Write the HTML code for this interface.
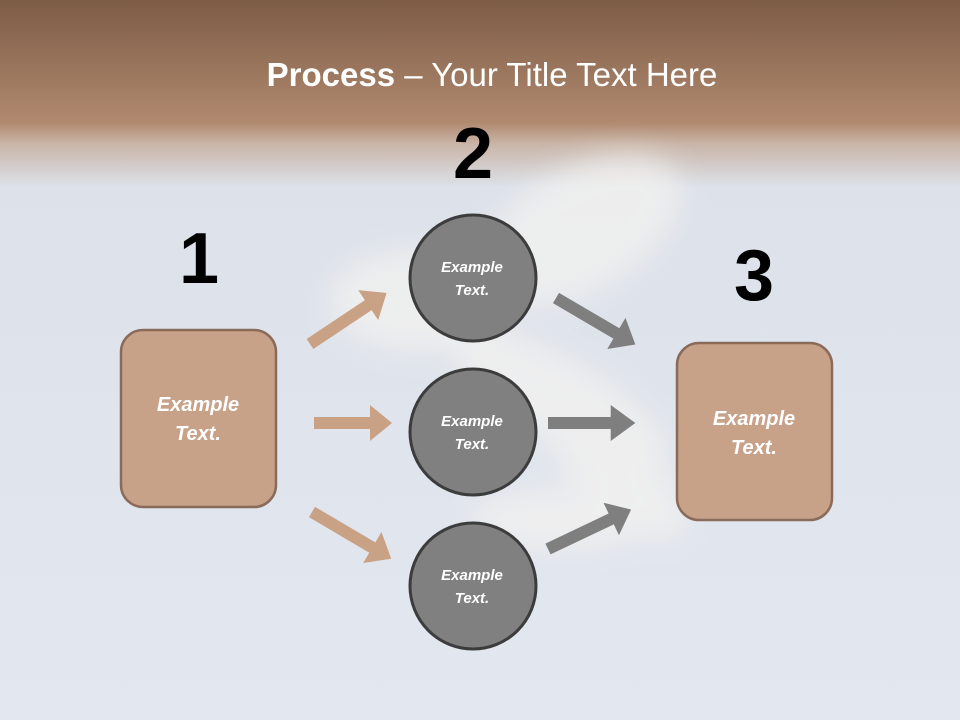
<!DOCTYPE html>
<html><head><meta charset="utf-8"><style>
body{margin:0;width:960px;height:720px;overflow:hidden;font-family:"Liberation Sans",sans-serif}
</style></head><body>
<svg width="960" height="720" viewBox="0 0 960 720" xmlns="http://www.w3.org/2000/svg">
<defs>
<linearGradient id="bg" x1="0" y1="0" x2="0" y2="1">
<stop offset="0" stop-color="#7d5c46"/>
<stop offset="0.17" stop-color="#b0896f"/>
<stop offset="0.2" stop-color="#c9b5a8"/>
<stop offset="0.26" stop-color="#dde2ea"/>
<stop offset="1" stop-color="#e3e7ef"/>
</linearGradient>
<filter id="bl"><feGaussianBlur stdDeviation="14"/></filter>
<g id="arr"><polygon points="0,-6 56,-6 56,-18 78,0 56,18 56,6 0,6"/></g>
<g id="darr"><polygon points="0,-6 70,-6 70,-18 92,0 70,18 70,6 0,6"/></g>
</defs>
<rect width="960" height="720" fill="url(#bg)"/>
<g filter="url(#bl)" fill="#f4f3f0" opacity="0.7">
<ellipse cx="420" cy="300" rx="90" ry="50"/>
<ellipse cx="580" cy="230" rx="110" ry="60" transform="rotate(-30 580 230)"/>
<ellipse cx="560" cy="400" rx="120" ry="40" transform="rotate(30 560 400)"/>
<ellipse cx="620" cy="480" rx="80" ry="35" transform="rotate(40 620 480)"/>
<ellipse cx="560" cy="520" rx="90" ry="28"/>
</g>
<text x="492" y="86" text-anchor="middle" fill="#fff" font-size="33"><tspan font-weight="bold">Process</tspan> – Your Title Text Here</text>
<g font-weight="bold" font-size="72" text-anchor="middle" fill="#000">
<text x="199" y="283">1</text><text x="473" y="178">2</text><text x="754" y="300">3</text>
</g>
<g fill="#c9a185">
<use href="#darr" transform="translate(310,344) rotate(-33.7)"/>
<use href="#arr" transform="translate(314,423)"/>
<use href="#darr" transform="translate(312,512) rotate(30.5)"/>
</g>
<g fill="#7f7f7f">
<use href="#darr" transform="translate(556,298) rotate(30.4)"/>
<use href="#arr" transform="translate(548,423) scale(1.12,1)"/>
<use href="#darr" transform="translate(548,549) rotate(-25.4)"/>
</g>
<rect x="121" y="330" width="155" height="177" rx="22" fill="#c8a189" stroke="#8a6b59" stroke-width="2.5"/>
<rect x="677" y="343" width="155" height="177" rx="22" fill="#c8a189" stroke="#8a6b59" stroke-width="2.5"/>
<g fill="#808080" stroke="#3c3c3c" stroke-width="3">
<circle cx="473" cy="278" r="63"/><circle cx="473" cy="432" r="63"/><circle cx="473" cy="586" r="63"/>
</g>
<g fill="#fff" font-weight="bold" font-style="italic" text-anchor="middle">
<g font-size="20"><text x="198" y="411">Example</text><text x="198" y="440">Text.</text>
<text x="754" y="425">Example</text><text x="754" y="454">Text.</text></g>
<g font-size="15"><text x="472" y="272">Example</text><text x="472" y="295">Text.</text>
<text x="472" y="426">Example</text><text x="472" y="449">Text.</text>
<text x="472" y="580">Example</text><text x="472" y="603">Text.</text></g>
</g>
</svg>
</body></html>
